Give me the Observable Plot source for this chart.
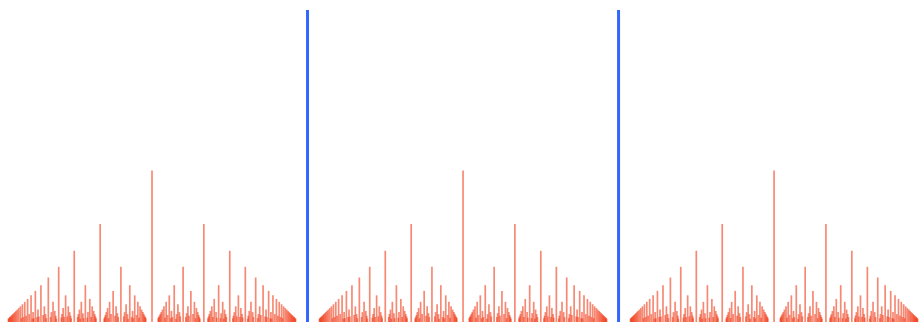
<!DOCTYPE html>
<html>
<head>
<meta charset="utf-8">
<script src="https://cdn.jsdelivr.net/npm/d3@7"></script>
<script src="https://cdn.jsdelivr.net/npm/@observablehq/plot@0.6"></script>
<style>
  html, body { margin: 0; padding: 0; background: #fff; overflow: hidden; }
  #chart svg { display: block; }
</style>
</head>
<body>
<div id="chart"></div>
<script>
// Denominators of the rational points drawn (Thomae-style ruler), heights 1/q
const denominators = [2,3,4,5,6,7,8,9,10,11,12,13,14,15,16,17,18,19,20,21,22,23,24,25,26];
// Integer points (denominator 1), drawn in blue
const integers = [1, 2];
// x extent covered by the three unit panels
const xSpan = 3;

const gcd = (a, b) => (b ? gcd(b, a % b) : a);
const fractions = [];
for (const q of denominators) {
  for (let p = 1; p < xSpan * q; p++) {
    if (gcd(p, q) === 1) fractions.push({x: p / q, y: 1 / q});
  }
}
const wholes = integers.map((n) => ({x: n, y: 1}));

const chart = Plot.plot({
  width: 921,
  height: 322,
  margin: 0,
  x: {domain: [0.0129, 2.974], range: [0, 921], axis: null},
  y: {domain: [0, 1], range: [331, 10], axis: null},
  marks: [
    Plot.ruleX(fractions, {x: "x", y1: 0, y2: "y", stroke: "#f03a18", strokeOpacity: 0.6, strokeWidth: 1.7}),
    Plot.ruleX(wholes, {x: "x", y1: 0, y2: "y", stroke: "#3366ff", strokeWidth: 3})
  ]
});
document.getElementById("chart").append(chart);
</script>
</body>
</html>
